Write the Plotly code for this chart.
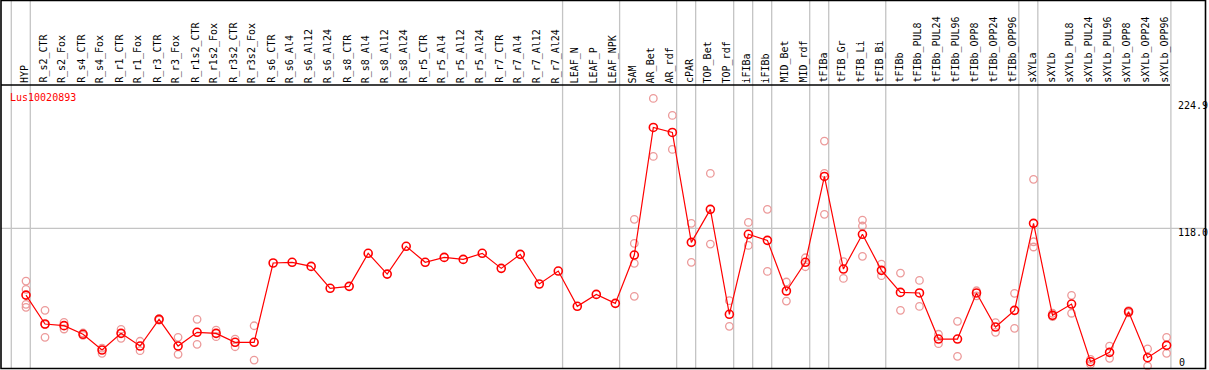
import plotly.graph_objects as go

categories = ["HYP", "R_s2_CTR", "R_s2_Fox", "R_s4_CTR", "R_s4_Fox", "R_r1_CTR", "R_r1_Fox",
              "R_r3_CTR", "R_r3_Fox", "R_r1s2_CTR", "R_r1s2_Fox", "R_r3s2_CTR", "R_r3s2_Fox",
              "R_s6_CTR", "R_s6_Al4", "R_s6_Al12", "R_s6_Al24", "R_s8_CTR", "R_s8_Al4", "R_s8_Al12",
              "R_s8_Al24", "R_r5_CTR", "R_r5_Al4", "R_r5_Al12", "R_r5_Al24", "R_r7_CTR", "R_r7_Al4",
              "R_r7_Al12", "R_r7_Al24", "LEAF_N", "LEAF_P", "LEAF_NPK", "SAM", "AR_Bet", "AR_rdf",
              "cPAR", "TOP_Bet", "TOP_rdf", "iFIBa", "iFIBb", "MID_Bet", "MID_rdf", "tFIBa",
              "tFIB_Gr", "tFIB_Li", "tFIB_Bi", "tFIBb", "tFIBb_PUL8", "tFIBb_PUL24", "tFIBb_PUL96",
              "tFIBb_OPP8", "tFIBb_OPP24", "tFIBb_OPP96", "sXYLa", "sXYLb", "sXYLb_PUL8",
              "sXYLb_PUL24", "sXYLb_PUL96", "sXYLb_OPP8", "sXYLb_OPP24", "sXYLb_OPP96"]

means = [60.8, 36.0, 34.6, 27.2, 13.7, 28.0, 17.1, 40.0, 17.1, 28.9, 28.0, 20.3, 20.3,
         88.3, 88.9, 85.4, 66.6, 68.3, 96.6, 78.8, 102.6, 88.9, 93.1, 91.4, 96.6, 83.7, 95.7,
         70.3, 81.4, 51.2, 61.4, 53.7, 95.1, 204.5, 200.2, 106.0, 134.3, 44.3, 112.9, 107.7,
         64.3, 88.9, 162.5, 83.1, 112.9, 82.0, 63.1, 62.6, 23.1, 23.1, 62.6, 33.4, 47.7,
         122.3, 43.4, 53.1, 3.7, 11.7, 46.5, 7.1, 17.7]

replicates = [
    [72.8, 65.7, 52.9, 50.3], [47.7, 24.6, 35.5], [37.4, 31.7], [28.3, 26.2], [10.9, 15.3],
    [31.4, 23.7], [21.2, 13.1], [40.6, 39.4], [24.6, 10.0], [40.0, 18.6], [30.8, 25.1],
    [23.1, 16.5], [34.5, 5.1],
    [], [], [], [], [], [], [], [], [], [], [], [], [], [], [], [], [], [], [],
    [125.7, 105.1, 88.0, 59.7], [229.4, 179.7], [214.8, 185.7], [122.3, 88.9],
    [165.1, 104.5], [56.0, 34.0], [123.1, 103.4], [134.3, 81.1], [72.0, 55.7], [92.8, 85.1],
    [192.8, 165.1, 130.0], [89.4, 75.1], [125.1, 120.0, 94.0], [87.4, 77.4],
    [79.7, 47.7], [73.4, 51.1], [27.2, 19.1], [38.3, 8.3], [64.5, 60.2], [37.1, 28.9],
    [62.3, 32.3], [160.0, 106.5, 102.0], [45.2, 42.3], [60.6, 45.2], [5.7, 1.5],
    [17.1, 6.6], [47.5, 45.5], [14.6, 0.0], [24.6, 10.9]]

group_ends = [-1, 0, 28, 31, 34, 35, 37, 38, 39, 41, 42, 45, 52, 53, 60]
gene = "Lus10020893"
tick_values = [224.9, 118.0, 0]
tick_labels = ["224.9", "118.0", "0"]

W, H = 1209, 370
X0, DX = 26.0, 19.01          # pixel of first category, pixel step
Y0, PPU = 366.0, 1.1665       # pixel of value 0, pixels per unit
FONT = "DejaVu Sans Mono"

def px(xp):
    return xp / W

def py(yp):
    return 1 - yp / H

rep_x, rep_y = [], []
for i, reps in enumerate(replicates):
    for v in reps:
        rep_x.append(i)
        rep_y.append(v)

fig = go.Figure()
fig.add_trace(go.Scatter(
    x=rep_x, y=rep_y, mode="markers",
    marker=dict(symbol="circle-open", size=7.5, color="#ec9a9a", line=dict(width=1.3, color="#ec9a9a")),
    hoverinfo="skip", showlegend=False))
fig.add_trace(go.Scatter(
    x=list(range(len(categories))), y=means, mode="lines+markers",
    line=dict(color="#ff0000", width=1.2),
    marker=dict(symbol="circle-open", size=8, color="#ff0000", line=dict(width=1.6, color="#ff0000")),
    text=categories, showlegend=False))

shapes = []
grey = "#c4c4c4"
for g in group_ends:
    xv = g + 4.3 / DX
    shapes.append(dict(type="line", xref="x", yref="paper", x0=xv, x1=xv, y0=py(368), y1=py(0),
                       line=dict(color=grey, width=1.3), layer="below"))
shapes.append(dict(type="line", xref="paper", yref="y", x0=px(1), x1=px(1205), y0=118.0, y1=118.0,
                   line=dict(color=grey, width=1.3), layer="below"))
blk = dict(color="black", width=1.6)
shapes.append(dict(type="rect", xref="paper", yref="paper", x0=px(1), x1=px(1205.5), y0=py(368.5), y1=py(0.5),
                   line=blk, fillcolor="rgba(0,0,0,0)"))
shapes.append(dict(type="line", xref="paper", yref="paper", x0=px(1), x1=px(1170), y0=py(85), y1=py(85), line=blk))

annotations = []
for i, c in enumerate(categories):
    annotations.append(dict(x=i - 0.1, y=py(84), xref="x", yref="paper", text=c, showarrow=False,
                            textangle=-90, xanchor="center", yanchor="bottom",
                            font=dict(family=FONT, size=10, color="black"), borderpad=0))
annotations.append(dict(x=px(9), y=py(97), xref="paper", yref="paper", text=gene, showarrow=False,
                        xanchor="left", yanchor="middle",
                        font=dict(family=FONT, size=10, color="#ff0000"), borderpad=0))
label_y = {"224.9": 106, "118.0": 232, "0": 362}
for v, t in zip(tick_values, tick_labels):
    annotations.append(dict(x=px(1177 if t != "0" else 1178), y=py(label_y[t]), xref="paper", yref="paper",
                            text=t, showarrow=False, xanchor="left", yanchor="middle",
                            font=dict(family=FONT, size=10, color="black"), borderpad=0))

fig.update_layout(
    width=W, height=H, autosize=False,
    margin=dict(l=0, r=0, t=0, b=0, pad=0),
    paper_bgcolor="white", plot_bgcolor="white",
    xaxis=dict(range=[(0 - X0) / DX, (W - X0) / DX], visible=False, fixedrange=True),
    yaxis=dict(range=[(Y0 - H) / PPU, Y0 / PPU], visible=False, fixedrange=True),
    shapes=shapes, annotations=annotations, showlegend=False)

fig.write_html("out.html", config={"displayModeBar": False},
               post_script="document.body.style.margin='0';document.body.style.overflow='hidden';")
